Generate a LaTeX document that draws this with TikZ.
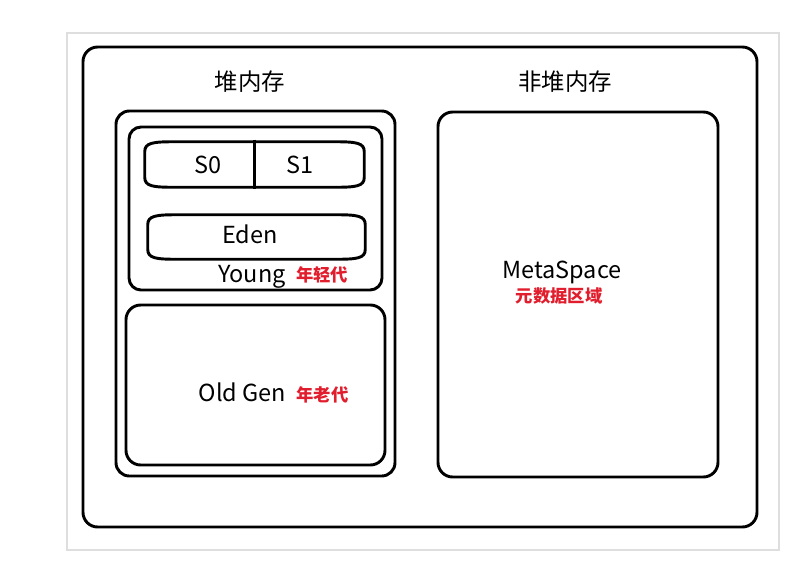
\documentclass[tikz,border=0pt]{standalone}
\usepackage{fontspec}
\setmainfont{Noto Sans CJK SC}
\usetikzlibrary{calc}
\definecolor{redlabel}{RGB}{225,30,45}
\definecolor{framegray}{RGB}{222,222,222}
\tikzset{
  box/.style={draw=black, line width=2.2pt, rectangle, inner sep=0pt},
  frm/.style={draw=framegray, line width=1.4pt, rectangle, inner sep=0pt},
  lbl/.style={inner sep=0pt, anchor=base, font=\fontsize{17.6}{20}\selectfont},
  redl/.style={inner sep=0pt, anchor=base, text=redlabel, font=\fontsize{13}{15}\selectfont\bfseries},
}
\begin{document}
\begin{tikzpicture}[x=0.75pt,y=-0.75pt]
\useasboundingbox (0,0) rectangle (797,562);
% light frame
\node[frm, minimum width=534pt, minimum height=387.75pt] (frame) at (423,291.5) {};
% outer box
\node[box, rounded corners=11pt, minimum width=505.5pt, minimum height=360pt] (outer) at (420,287) {};
% heap
\node[box, rounded corners=10pt, minimum width=209.25pt, minimum height=273.75pt] (heap) at (255.5,293.5) {};
% young
\node[box, rounded corners=9pt, minimum width=189.75pt, minimum height=122.25pt] (young) at (255.5,208.5) {};
% S0/S1
\node[rectangle, inner sep=0pt, minimum width=164.25pt, minimum height=33.75pt] (s) at (254.5,164.5) {};
\draw[line width=2.2pt]
  ($(s.north west)+(0,10)$) .. controls ($(s.north west)+(0,1)$) and ($(s.north west)+(8,0)$) .. ($(s.north west)+(30,0)$)
  -- ($(s.north east)+(-30,0)$) .. controls ($(s.north east)+(-8,0)$) and ($(s.north east)+(0,1)$) .. ($(s.north east)+(0,10)$)
  -- ($(s.south east)+(0,-10)$) .. controls ($(s.south east)+(0,-1)$) and ($(s.south east)+(-8,0)$) .. ($(s.south east)+(-30,0)$)
  -- ($(s.south west)+(30,0)$) .. controls ($(s.south west)+(8,0)$) and ($(s.south west)+(0,-1)$) .. ($(s.south west)+(0,-10)$)
  -- cycle;
\draw[line width=2.2pt] ($(s.north)+(0,-2)$) -- ($(s.south)+(0,2)$);
% Eden
\node[rectangle, inner sep=0pt, minimum width=162.75pt, minimum height=33pt] (e) at (256.5,237) {};
\draw[line width=2.2pt]
  ($(e.north west)+(0,10)$) .. controls ($(e.north west)+(0,1)$) and ($(e.north west)+(8,0)$) .. ($(e.north west)+(30,0)$)
  -- ($(e.north east)+(-30,0)$) .. controls ($(e.north east)+(-8,0)$) and ($(e.north east)+(0,1)$) .. ($(e.north east)+(0,10)$)
  -- ($(e.south east)+(0,-10)$) .. controls ($(e.south east)+(0,-1)$) and ($(e.south east)+(-8,0)$) .. ($(e.south east)+(-30,0)$)
  -- ($(e.south west)+(30,0)$) .. controls ($(e.south west)+(8,0)$) and ($(e.south west)+(0,-1)$) .. ($(e.south west)+(0,-10)$)
  -- cycle;
% Old gen
\node[box, rounded corners=11pt, minimum width=194.25pt, minimum height=120pt] (old) at (255.5,385) {};
% Metaspace
\node[box, rounded corners=11pt, minimum width=210pt, minimum height=273.75pt] (meta) at (578,294.5) {};
% labels
\node[lbl] (theap) at (250,90) {堆内存};
\node[lbl] (tnonheap) at (565,90) {非堆内存};
\node[lbl] (ts0) at (208,173) {S0};
\node[lbl] (ts1) at (300,173) {S1};
\node[lbl] (teden) at (250,243) {Eden};
\node[lbl] (tyoung) at (252,282) {Young};
\node[redl] (tyoungcn) at (322,281) {年轻代};
\node[lbl] (told) at (242.5,401) {Old Gen};
\node[redl] (toldcn) at (322.5,401) {年老代};
\node[lbl] (tmeta) at (562,278) {MetaSpace};
\node[redl] (tmetacn) at (559,302) {元数据区域};
\end{tikzpicture}
\end{document}
